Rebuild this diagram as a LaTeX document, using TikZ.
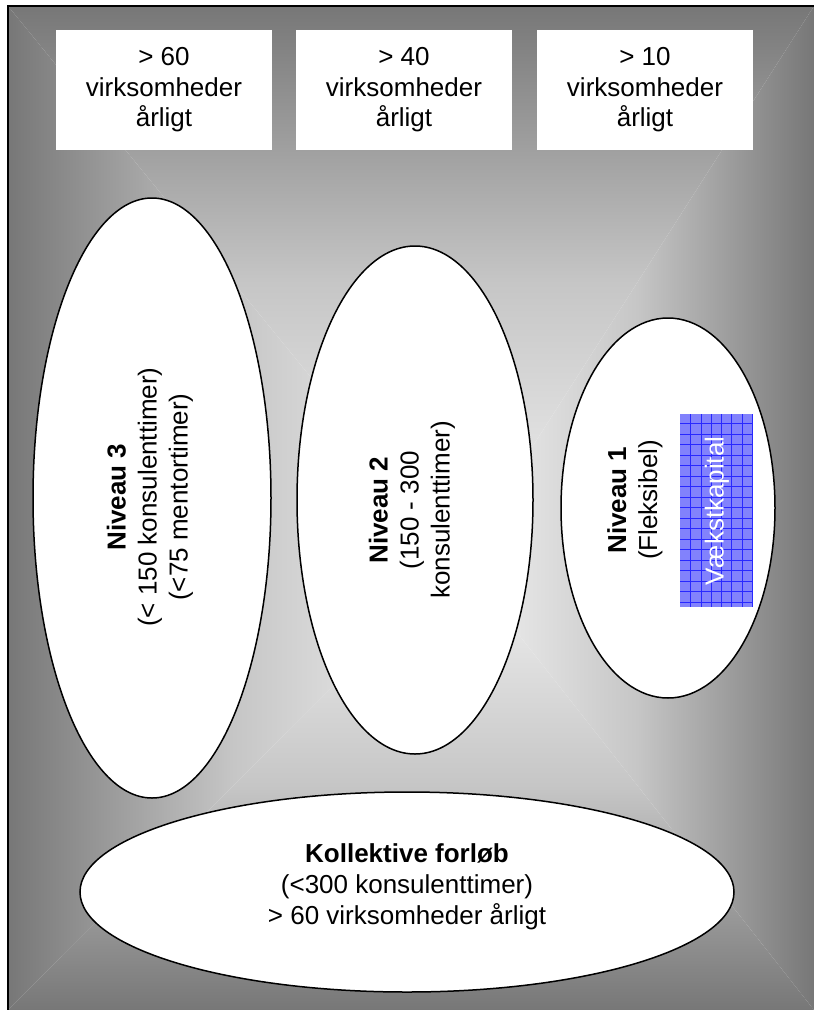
\documentclass[tikz,border=0pt]{standalone}
\usepackage{fontspec}
\setmainfont{Liberation Sans}
\usetikzlibrary{shapes.geometric}
\definecolor{edgegray}{RGB}{119,119,119}
\definecolor{midgray}{RGB}{198,198,198}
\definecolor{centergray}{RGB}{243,243,243}
\definecolor{vkfill}{RGB}{130,130,252}
\definecolor{vkline}{RGB}{40,40,255}
\begin{document}
\begin{tikzpicture}[x=1pt,y=-1pt,
  topbox/.style={fill=white, minimum width=216pt, minimum height=120pt, inner sep=0pt, align=center, font=\fontsize{26}{30.5}\selectfont},
  ovalshape/.style={ellipse, draw=black, line width=1.5pt, fill=white, inner sep=0pt},
  ovaltext/.style={align=center, inner sep=0pt, font=\fontsize{26}{31}\selectfont},
  vkbox/.style={rectangle, fill=vkfill, inner sep=0pt, minimum width=73pt, minimum height=193pt},
  gridline/.style={draw=vkline, line width=0.8pt},
  frameline/.style={draw=black, line width=1.5pt}
]
\useasboundingbox (0,0) rectangle (814,1010);
% background gradient
\coordinate (C) at (460,560);
\coordinate (TL) at (8,6);
\coordinate (TR) at (814,6);
\coordinate (BR) at (814,1010);
\coordinate (BL) at (8,1010);
\shade[top color=edgegray, bottom color=centergray, middle color=midgray] (TL) -- (TR) -- (C) -- cycle;
\shade[top color=centergray, bottom color=edgegray, middle color=midgray] (BL) -- (BR) -- (C) -- cycle;
\shade[left color=edgegray, right color=centergray, middle color=midgray] (TL) -- (BL) -- (C) -- cycle;
\shade[left color=centergray, right color=edgegray, middle color=midgray] (TR) -- (BR) -- (C) -- cycle;
\draw[frameline] (BL) -- (TL) -- (TR);
% top boxes
\node[topbox] (b60) at (164,90) {> 60\\virksomheder\\årligt};
\node[topbox] (b40) at (404,90) {> 40\\virksomheder\\årligt};
\node[topbox] (b10) at (645,90) {> 10\\virksomheder\\årligt};
% ellipses
\node[ovalshape, minimum width=238pt, minimum height=600pt] (n3) at (152,498) {};
\node[ovalshape, minimum width=236pt, minimum height=508pt] (n2) at (415,500) {};
\node[ovalshape, minimum width=214pt, minimum height=380pt] (n1) at (668,508) {};
\node[ovalshape, minimum width=654pt, minimum height=200pt] (kf) at (407,892) {};
% texts
\node[ovaltext, rotate=90] (n3t) at (150,497) {\textbf{Niveau 3}\\(< 150 konsulenttimer)\\(<75 mentortimer)};
\node[ovaltext, rotate=90] (n2t) at (412,510) {\textbf{Niveau 2}\\(150 - 300\\konsulenttimer)};
\node[ovaltext, rotate=90] (n1t) at (635,500) {\textbf{Niveau 1}\\(Fleksibel)};
% Vaekstkapital box
\node[vkbox] (vk) at (716.5,510.5) {};
\begin{scope}
\clip (vk.south west) rectangle (vk.north east);
\foreach \i in {0,...,6} \draw[gridline] (690.6+10.3*\i,414) -- ++(0,193);
\foreach \j in {0,...,17} \draw[gridline] (680,423.5+10.5*\j) -- ++(73,0);
\end{scope}
\node[ovaltext, rotate=90, text=white] (vkt) at (717,511) {Vækstkapital};
\node[ovaltext] (kft) at (407,887) {\textbf{Kollektive forløb}\\(<300 konsulenttimer)\\> 60 virksomheder årligt};
\end{tikzpicture}
\end{document}
